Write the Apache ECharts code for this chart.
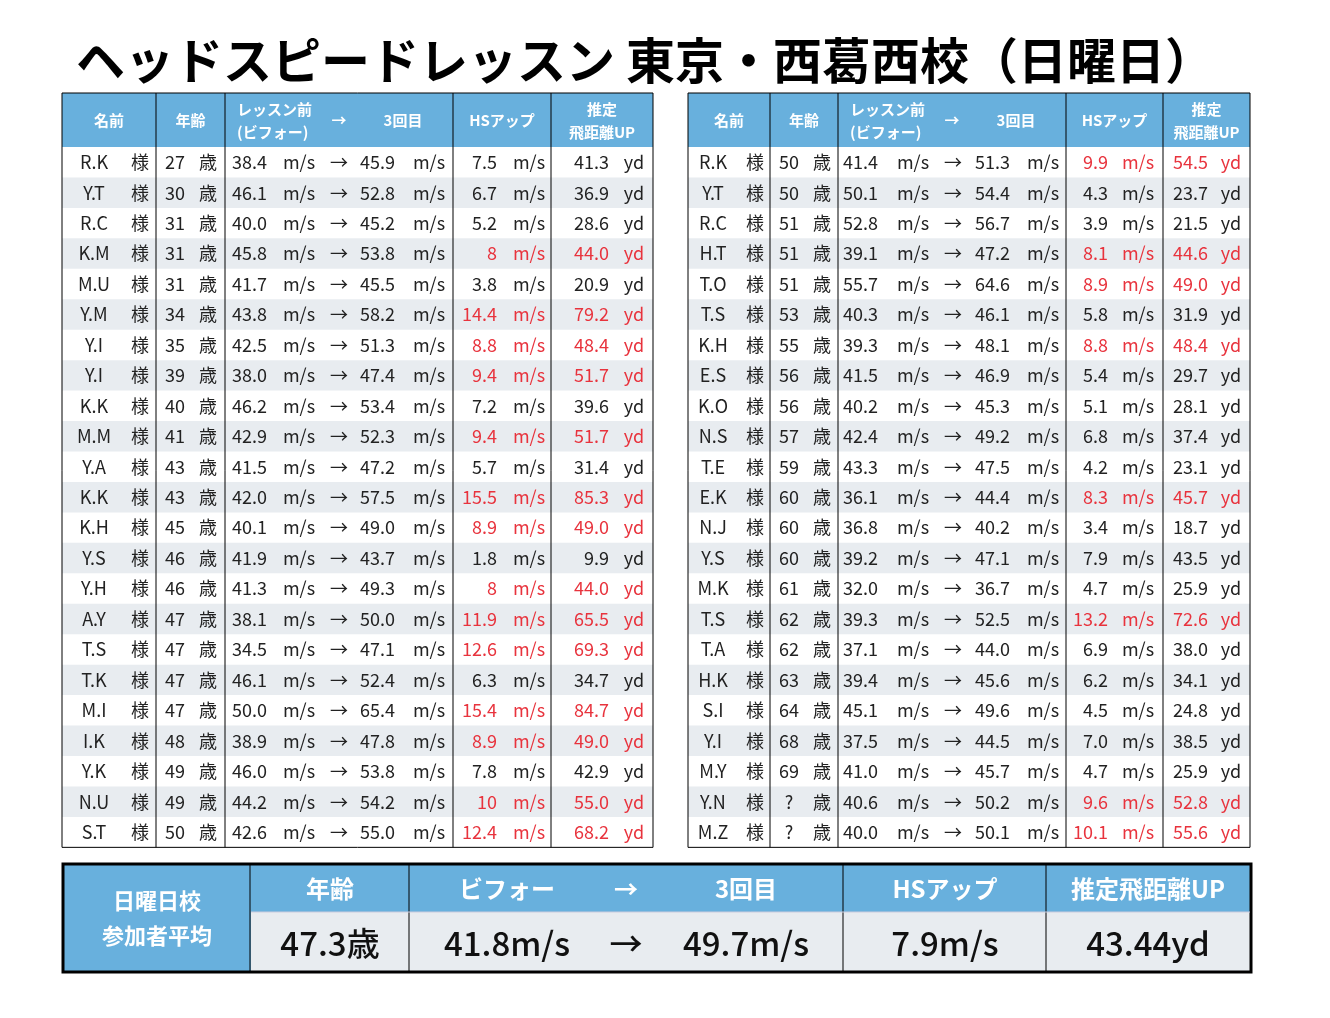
<!DOCTYPE html><html><head><meta charset="utf-8">
<script src="https://cdn.jsdelivr.net/npm/echarts@6/dist/echarts.min.js"></script>
<style>html,body{margin:0;background:#fff}#c{width:1330px;height:1018px}</style></head><body><div id="c"></div>
<script>
const title = "ヘッドスピードレッスン 東京・西葛西校（日曜日）";
const namesL = ["R.K","Y.T","R.C","K.M","M.U","Y.M","Y.I","Y.I","K.K","M.M","Y.A","K.K","K.H","Y.S","Y.H","A.Y","T.S","T.K","M.I","I.K","Y.K","N.U","S.T"];
const agesL = ["27","30","31","31","31","34","35","39","40","41","43","43","45","46","46","47","47","47","47","48","49","49","50"];
const beforeL = ["38.4","46.1","40.0","45.8","41.7","43.8","42.5","38.0","46.2","42.9","41.5","42.0","40.1","41.9","41.3","38.1","34.5","46.1","50.0","38.9","46.0","44.2","42.6"];
const afterL = ["45.9","52.8","45.2","53.8","45.5","58.2","51.3","47.4","53.4","52.3","47.2","57.5","49.0","43.7","49.3","50.0","47.1","52.4","65.4","47.8","53.8","54.2","55.0"];
const hsL = ["7.5","6.7","5.2","8","3.8","14.4","8.8","9.4","7.2","9.4","5.7","15.5","8.9","1.8","8","11.9","12.6","6.3","15.4","8.9","7.8","10","12.4"];
const distL = ["41.3","36.9","28.6","44.0","20.9","79.2","48.4","51.7","39.6","51.7","31.4","85.3","49.0","9.9","44.0","65.5","69.3","34.7","84.7","49.0","42.9","55.0","68.2"];
const namesR = ["R.K","Y.T","R.C","H.T","T.O","T.S","K.H","E.S","K.O","N.S","T.E","E.K","N.J","Y.S","M.K","T.S","T.A","H.K","S.I","Y.I","M.Y","Y.N","M.Z"];
const agesR = ["50","50","51","51","51","53","55","56","56","57","59","60","60","60","61","62","62","63","64","68","69","?","?"];
const beforeR = ["41.4","50.1","52.8","39.1","55.7","40.3","39.3","41.5","40.2","42.4","43.3","36.1","36.8","39.2","32.0","39.3","37.1","39.4","45.1","37.5","41.0","40.6","40.0"];
const afterR = ["51.3","54.4","56.7","47.2","64.6","46.1","48.1","46.9","45.3","49.2","47.5","44.4","40.2","47.1","36.7","52.5","44.0","45.6","49.6","44.5","45.7","50.2","50.1"];
const hsR = ["9.9","4.3","3.9","8.1","8.9","5.8","8.8","5.4","5.1","6.8","4.2","8.3","3.4","7.9","4.7","13.2","6.9","6.2","4.5","7.0","4.7","9.6","10.1"];
const distR = ["54.5","23.7","21.5","44.6","49.0","31.9","48.4","29.7","28.1","37.4","23.1","45.7","18.7","43.5","25.9","72.6","38.0","34.1","24.8","38.5","25.9","52.8","55.6"];
const avgLabels = ["年齢","ビフォー","→","3回目","HSアップ","推定飛距離UP"];
const avgValues = ["47.3歳","41.8m/s","→","49.7m/s","7.9m/s","43.44yd"];

const F = "'Noto Sans CJK JP','Noto Sans',sans-serif";
const BLUE = "#68b0dd", GRAY = "#e8ecf0", RED = "#e8333d", TXT = "#222";
const els = [];
function rect(x,y,w,h,fill,stroke,lw){els.push({type:'rect',shape:{x,y,width:w,height:h},style:{fill:fill||'none',stroke:stroke||null,lineWidth:lw||0},silent:true});}
function line(x1,y1,x2,y2,c,lw){els.push({type:'line',shape:{x1,y1,x2,y2},style:{stroke:c||'#000',lineWidth:lw||1},silent:true});}
function text(t,x,y,o){o=o||{};els.push({type:'text',x,y,style:{text:t,fill:o.fill||TXT,font:(o.weight||'normal')+' '+(o.size||18)+'px '+F,textAlign:o.align||'left',textVerticalAlign:'middle'},silent:true});}

text(title,76,60,{size:49,weight:'bold',fill:'#000'});

function table(x0,cols,off,names,ages,bef,aft,hs,dist){
  const top=93, hh=54, rh=30.45, n=names.length, right=cols[cols.length-1];
  rect(x0,top,right-x0,hh,BLUE);
  for(let i=0;i<n;i++){ if(i%2===1) rect(x0,top+hh+i*rh,right-x0,rh,GRAY); }
  const bottom=top+hh+n*rh;
  rect(x0,top,right-x0,bottom-top,null,'#000',1);
  cols.slice(1,-1).forEach(c=>line(c,top,c,bottom,'#000',1));
  const hc={fill:'#fff',size:15,weight:'bold'};
  text('名前',(x0+cols[1])/2,top+27,{...hc,align:'center'});
  text('年齢',(cols[1]+cols[2])/2,top+27,{...hc,align:'center'});
  text('レッスン前',cols[2]+12,top+16,hc);
  text('(ビフォー)',cols[2]+12,top+39,hc);
  text('→',cols[2]+114,top+27,{...hc,align:'center'});
  text('3回目',cols[2]+178,top+27,{...hc,align:'center'});
  text('HSアップ',(cols[3]+cols[4])/2,top+27,{...hc,align:'center'});
  text('推定',(cols[4]+cols[5])/2,top+16,{...hc,align:'center'});
  text('飛距離UP',(cols[4]+cols[5])/2,top+39,{...hc,align:'center'});
  for(let i=0;i<n;i++){
    const y=top+hh+i*rh+rh/2, red=parseFloat(hs[i])>=8, c=red?RED:TXT;
    text(names[i],x0+off.name,y,{align:'center'});
    text('様',x0+off.sama,y,{align:'center'});
    text(ages[i],x0+off.age,y,{align:'center'});
    text('歳',x0+off.sai,y,{align:'center'});
    text(bef[i],x0+off.bef,y);
    text('m/s',x0+off.ms1,y,{align:'center'});
    text('→',x0+off.arr,y,{align:'center'});
    text(aft[i],x0+off.aft,y);
    text('m/s',x0+off.ms2,y,{align:'center'});
    text(hs[i],x0+off.hs,y,{align:'right',fill:c});
    text('m/s',x0+off.ms3,y,{align:'center',fill:c});
    text(dist[i],x0+off.dist,y,{align:'right',fill:c});
    text('yd',x0+off.yd,y,{align:'center',fill:c});
  }
}
table(62,[62,156,225,453,551,653],{name:32,sama:78,age:113,sai:146,bef:170,ms1:237,arr:277,aft:298,ms2:367,hs:435,ms3:467,dist:547,yd:572},namesL,agesL,beforeL,afterL,hsL,distL);
table(688,[688,770,838,1066,1163,1250],{name:25,sama:67,age:101,sai:134,bef:155,ms1:225,arr:265,aft:287,ms2:355,hs:420,ms3:450,dist:520,yd:543},namesR,agesR,beforeR,afterR,hsR,distR);

rect(63,864,188,108,BLUE);
rect(251,864,1000,48,BLUE);
rect(251,912,1000,60,GRAY);
rect(63,864,1188,108,null,'#000',3);
[250,409,843,1046].forEach(x=>line(x,864,x,972,'#000',1));
line(251,912,1250,912,'#ccd',1);
text('日曜日校',157,901,{align:'center',fill:'#fff',size:22,weight:'bold'});
text('参加者平均',157,936,{align:'center',fill:'#fff',size:22,weight:'bold'});
const ax=[330,507,626,746,945,1148];
avgLabels.forEach((t,i)=>text(t,ax[i],889,{align:'center',fill:'#fff',size:24,weight:'bold'}));
avgValues.forEach((t,i)=>text(t,ax[i],943,{align:'center',fill:'#111',size:33,weight:'500'}));

const chart=echarts.init(document.getElementById('c'));
chart.setOption({animation:false,graphic:{elements:els}});
</script></body></html>
